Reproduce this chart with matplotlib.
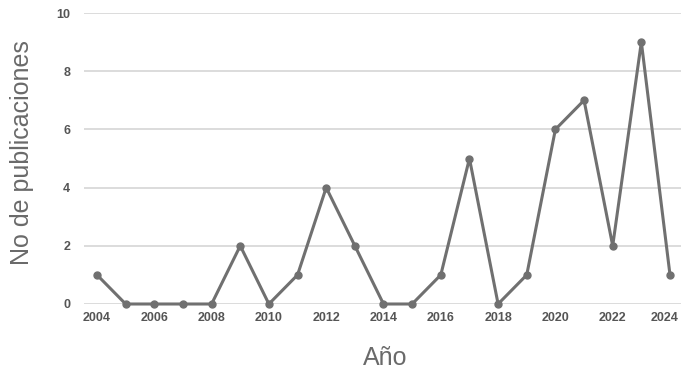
import matplotlib
matplotlib.use("Agg")
import matplotlib.pyplot as plt
from matplotlib.transforms import ScaledTranslation

years = list(range(2004, 2025))
counts = [1, 0, 0, 0, 0, 2, 0, 1, 4, 2, 0, 0, 1, 5, 0, 1, 6, 7, 2, 9, 1]
xticks = list(range(2004, 2025, 2))
yticks = [0, 2, 4, 6, 8, 10]

plt.rcParams["font.family"] = ["Liberation Sans", "DejaVu Sans"]

fig = plt.figure(figsize=(6.81, 3.73), dpi=100)
ax = fig.add_axes([84/681, 1-304/373, 1-84/681, (304-13)/373])
ax.plot(years, counts, color="#707070", lw=2.2, marker="o", ms=5, zorder=3, clip_on=False)
ax.set_xlim(2004 - 13/28.65, 2024 + 11/28.65)
ax.set_ylim(0, 10)
ax.set_yticks(yticks)
ax.set_xticks(xticks)
ax.grid(axis="y", color="#d9d9d9", lw=1.3)
ax.set_axisbelow(True)
for s in ax.spines.values():
    s.set_visible(False)
ax.tick_params(length=0, labelsize=9, labelcolor="#555555")
ax.tick_params(axis="y", pad=10)
ax.tick_params(axis="x", pad=6)
for lab in ax.get_xticklabels() + ax.get_yticklabels():
    lab.set_fontweight("bold")
last = ax.get_xticklabels()[-1]
last.set_transform(last.get_transform() + ScaledTranslation(-5/100, 0, fig.dpi_scale_trans))
fig.text(385/681, 1-358/373, "Año", ha="center", va="center", fontsize=18, color="#6a6a6a")
fig.text(22/681, 1-153/373, "No de publicaciones", ha="center", va="center", rotation=90, fontsize=18, color="#6a6a6a")
fig.savefig("out.png", dpi=100)
